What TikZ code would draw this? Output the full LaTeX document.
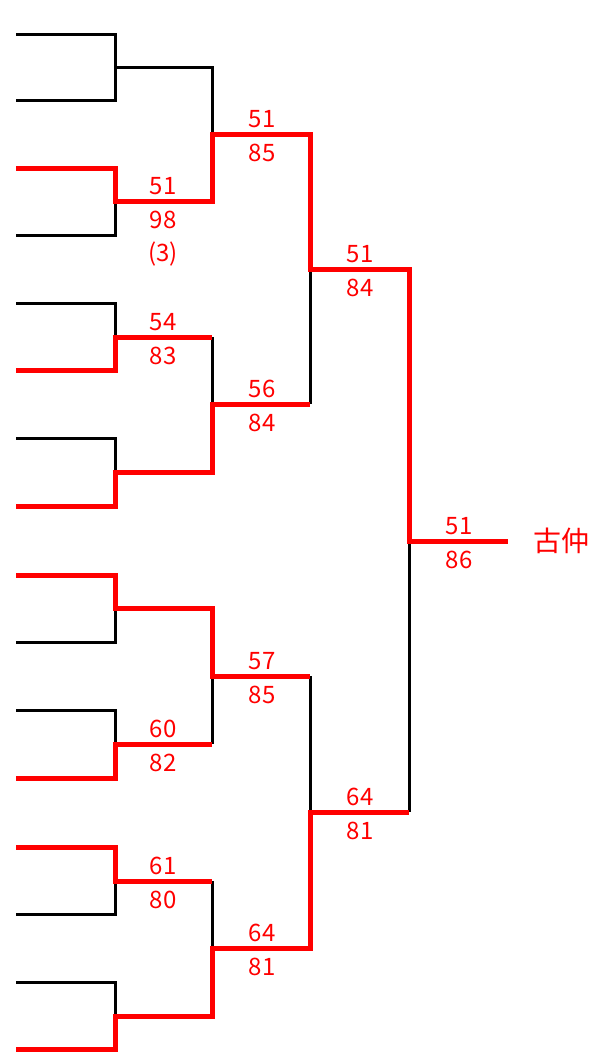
\documentclass[tikz,border=0pt]{standalone}
\usepackage{fontspec}
\setmainfont{Noto Sans CJK JP}
\newcommand\scorefont{\fontsize{24pt}{24pt}\selectfont}
\newcommand\namefont{\fontsize{28pt}{28pt}\selectfont}

\begin{document}
\begin{tikzpicture}[y=1pt, x=1pt, yscale=-1, inner sep=0pt, outer sep=0pt,
  win/.style={draw=bred, line width=5pt, line join=miter, line cap=butt},
  lose/.style={draw=black, line width=3pt, line join=miter, line cap=butt},
  sc/.style={text=bred, font=\scorefont}]
\definecolor{bred}{rgb}{1,0,0}
\useasboundingbox (0,0) rectangle (606,1058);
% players
\coordinate (p1) at (16,34);
\coordinate (p2) at (16,100);
\coordinate (p3) at (16,168);
\coordinate (p4) at (16,235);
\coordinate (p5) at (16,303);
\coordinate (p6) at (16,370);
\coordinate (p7) at (16,438);
\coordinate (p8) at (16,506);
\coordinate (p9) at (16,575);
\coordinate (p10) at (16,642);
\coordinate (p11) at (16,710);
\coordinate (p12) at (16,778);
\coordinate (p13) at (16,847);
\coordinate (p14) at (16,914);
\coordinate (p15) at (16,982);
\coordinate (p16) at (16,1049);
% junctions
\coordinate (a1) at (115,67);
\coordinate (a2) at (115,201);
\coordinate (a3) at (115,337);
\coordinate (a4) at (115,472);
\coordinate (a5) at (115,608);
\coordinate (a6) at (115,744);
\coordinate (a7) at (115,881);
\coordinate (a8) at (115,1016);
\coordinate (b1) at (212,134);
\coordinate (b2) at (212,404);
\coordinate (b3) at (212,676);
\coordinate (b4) at (212,948);
\coordinate (c1) at (310,269);
\coordinate (c2) at (310,812);
\coordinate (d1) at (409,541);
\coordinate (e1) at (508,541);

% losing lines
\path[lose] (p1) -- (p1 -| a1) -- (a1) -- (p2 -| a1) -- (p2);
\path[lose] (a1) -- (a1 -| b1) -- (b1);
\path[lose] (p4) -- (p4 -| a2) -- (a2);
\path[lose] (p5) -- (p5 -| a3) -- (a3);
\path[lose] (a3 -| b2) -- (b2);
\path[lose] (p7) -- (p7 -| a4) -- (a4);
\path[lose] (p10) -- (p10 -| a5) -- (a5);
\path[lose] (p11) -- (p11 -| a6) -- (a6);
\path[lose] (a6 -| b3) -- (b3);
\path[lose] (p14) -- (p14 -| a7) -- (a7);
\path[lose] (a7 -| b4) -- (b4);
\path[lose] (p15) -- (p15 -| a8) -- (a8);
\path[lose] (b2 -| c1) -- (c1);
\path[lose] (b3 -| c2) -- (c2);
\path[lose] (c2 -| d1) -- (d1);

% winning lines
\path[win] (p3) -- (p3 -| a2) -- (a2) -- (a2 -| b1) -- (b1) -- (b1 -| c1)
  -- (c1) -- (c1 -| d1) -- (d1) -- (e1);
\path[win] (p6) -- (p6 -| a3) -- (a3) -- (a3 -| b2);
\path[win] (p8) -- (p8 -| a4) -- (a4) -- (a4 -| b2) -- (b2) -- (b2 -| c1);
\path[win] (p9) -- (p9 -| a5) -- (a5) -- (a5 -| b3) -- (b3) -- (b3 -| c2);
\path[win] (p12) -- (p12 -| a6) -- (a6) -- (a6 -| b3);
\path[win] (p13) -- (p13 -| a7) -- (a7) -- (a7 -| b4);
\path[win] (p16) -- (p16 -| a8) -- (a8) -- (a8 -| b4) -- (b4) -- (b4 -| c2)
  -- (c2) -- (c2 -| d1);

% scores
\node[sc] (a2u) at (163,186) {51};
\node[sc] (a2d) at (163,220) {98};
\node[sc] (a2x) at (163,254) {(3)};
\node[sc] (a3u) at (163,322) {54};
\node[sc] (a3d) at (163,356) {83};
\node[sc] (a6u) at (163,729) {60};
\node[sc] (a6d) at (163,763) {82};
\node[sc] (a7u) at (163,866) {61};
\node[sc] (a7d) at (163,900) {80};
\node[sc] (b1u) at (262,119) {51};
\node[sc] (b1d) at (262,153) {85};
\node[sc] (b2u) at (262,389) {56};
\node[sc] (b2d) at (262,423) {84};
\node[sc] (b3u) at (262,661) {57};
\node[sc] (b3d) at (262,695) {85};
\node[sc] (b4u) at (262,933) {64};
\node[sc] (b4d) at (262,967) {81};
\node[sc] (c1u) at (360,254) {51};
\node[sc] (c1d) at (360,288) {84};
\node[sc] (c2u) at (360,797) {64};
\node[sc] (c2d) at (360,831) {81};
\node[sc] (d1u) at (459,526) {51};
\node[sc] (d1d) at (459,560) {86};
\node[text=bred, font=\namefont] (champ) at (561,541) {古仲};

\end{tikzpicture}
\end{document}
